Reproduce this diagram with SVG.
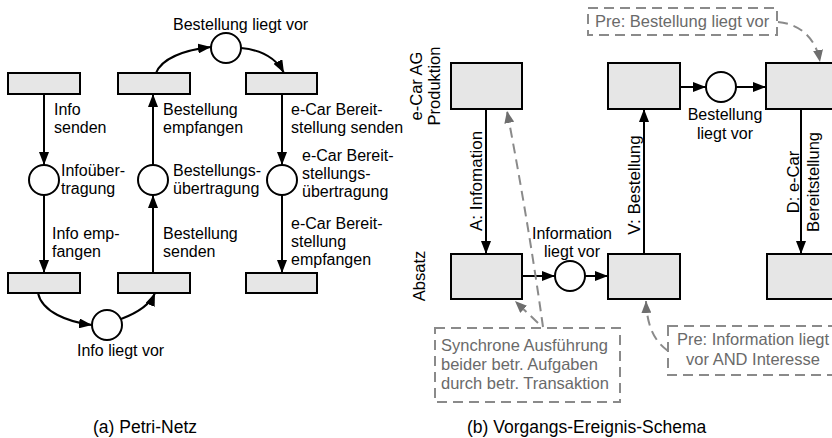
<svg xmlns="http://www.w3.org/2000/svg" width="832" height="438" viewBox="0 0 832 438">
  <defs>
    <style>
      .t{font-family:"Liberation Sans",Arial,Helvetica,sans-serif;font-size:16px;fill:#000}
      .m{text-anchor:middle}
      .r{font-size:16.5px}
      .rl{font-size:17px}
      .g{font-size:16.5px;fill:#6a6a6a}
      .cap{font-size:17.5px}
      .box{fill:#e6e6e6;stroke:#000;stroke-width:2}
      .pl{fill:#fff;stroke:#000;stroke-width:2}
      .c{fill:none;stroke:#000;stroke-width:2;marker-end:url(#ah)}
      .d{fill:none;stroke:#8a8a8a;stroke-width:2;stroke-dasharray:10 6}
      .da{fill:none;stroke:#8a8a8a;stroke-width:2;stroke-dasharray:10 6;marker-end:url(#ahg)}
    </style>
    <marker id="ah" markerUnits="userSpaceOnUse" markerWidth="13" markerHeight="10" refX="13" refY="5" orient="auto">
      <path d="M0,0 L13,5 L0,10 z" fill="#000"/>
    </marker>
    <marker id="ahg" markerUnits="userSpaceOnUse" markerWidth="12" markerHeight="10" refX="12" refY="5" orient="auto">
      <path d="M0,0 L12,5 L0,10 z" fill="#6e6e6e"/>
    </marker>
  </defs>

  <!-- (a) Petri net: transitions -->
  <g id="t-info-senden"><rect class="box" x="8" y="73" width="72" height="21"/></g>
  <g id="t-bestellung-empfangen"><rect class="box" x="118" y="73" width="72" height="21"/></g>
  <g id="t-ecar-senden"><rect class="box" x="246" y="73" width="71" height="21"/></g>
  <g id="t-info-empfangen"><rect class="box" x="8" y="273" width="72" height="20"/></g>
  <g id="t-bestellung-senden"><rect class="box" x="118" y="273" width="72" height="20"/></g>
  <g id="t-ecar-empfangen"><rect class="box" x="246" y="273" width="71" height="20"/></g>

  <!-- (a) Petri net: places -->
  <g id="p-infouebertragung"><circle class="pl" cx="44" cy="180" r="15"/></g>
  <g id="p-bestellungsuebertragung"><circle class="pl" cx="153" cy="180" r="15"/></g>
  <g id="p-ecar-uebertragung"><circle class="pl" cx="282" cy="180" r="15"/></g>
  <g id="p-bestellung-liegt-vor"><circle class="pl" cx="226" cy="48" r="15"/></g>
  <g id="p-info-liegt-vor"><circle class="pl" cx="107" cy="325" r="15"/></g>

  <!-- (b) event-process schema: tasks and events -->
  <g id="v-produktion-a"><rect class="box" x="451" y="63" width="71" height="46"/></g>
  <g id="v-produktion-v"><rect class="box" x="608" y="63" width="72" height="46"/></g>
  <g id="v-produktion-d"><rect class="box" x="766" y="63" width="80" height="46"/></g>
  <g id="v-absatz-a"><rect class="box" x="451" y="254" width="71" height="45"/></g>
  <g id="v-absatz-v"><rect class="box" x="608" y="254" width="72" height="45"/></g>
  <g id="v-absatz-d"><rect class="box" x="767" y="254" width="80" height="45"/></g>
  <g id="e-bestellung-liegt-vor"><circle class="pl" cx="721" cy="87" r="15"/></g>
  <g id="e-information-liegt-vor"><circle class="pl" cx="570" cy="276" r="15"/></g>

  <!-- connectors -->
  <g id="connectors">
    <path class="c" d="M44,94 L44,165"/>
    <path class="c" d="M44,195 L44,273"/>
    <path class="c" d="M153,273 L153,195"/>
    <path class="c" d="M153,165 L153,94"/>
    <path class="c" d="M282,94 L282,165"/>
    <path class="c" d="M282,195 L282,273"/>
    <path class="c" d="M156,73 C162,58 185,50 211,47"/>
    <path class="c" d="M241,48 C262,50 276,58 284,73"/>
    <path class="c" d="M38,293 C42,312 68,322 92,325"/>
    <path class="c" d="M121,319 C137,313 150,305 155,293"/>

    <path class="c" d="M486,109 L486,254"/>
    <path class="c" d="M644,254 L644,109"/>
    <path class="c" d="M801,109 L801,254"/>
    <path class="c" d="M680,87 L706,87"/>
    <path class="c" d="M736,87 L766,87"/>
    <path class="c" d="M522,276 L555,276"/>
    <path class="c" d="M585,276 L608,276"/>

    <path class="da" d="M778,22 C800,24 816,38 820,62"/>
    <path class="da" d="M668,351 C657,343 647,330 646,301"/>
    <path class="da" d="M543,327 Q528,220 507,111"/>
    <path class="da" d="M538,323 L515,301"/>
  </g>

  <!-- annotation boxes -->
  <g id="note-pre-bestellung">
    <rect class="d" x="588" y="8" width="189" height="27"/>
    <text class="t g" x="595" y="27">Pre: Bestellung liegt vor</text>
  </g>
  <g id="note-synchron">
    <rect class="d" x="435" y="328" width="185" height="74"/>
    <text class="t g" x="441" y="351">Synchrone Ausführung</text>
    <text class="t g" x="441" y="370">beider betr. Aufgaben</text>
    <text class="t g" x="441" y="389">durch betr. Transaktion</text>
  </g>
  <g id="note-pre-information">
    <rect class="d" x="668" y="326" width="172" height="49"/>
    <text class="t g m" x="753" y="345">Pre: Information liegt</text>
    <text class="t g m" x="753" y="365">vor AND Interesse</text>
  </g>

  <!-- labels (a) -->
  <g id="labels-a">
    <text class="t" x="54" y="115">Info</text>
    <text class="t" x="54" y="133">senden</text>
    <text class="t" x="61" y="176">Infoüber-</text>
    <text class="t" x="61" y="194">tragung</text>
    <text class="t" x="52" y="239">Info emp-</text>
    <text class="t" x="52" y="257">fangen</text>
    <text class="t" x="163" y="115">Bestellung</text>
    <text class="t" x="163" y="133">empfangen</text>
    <text class="t" x="173" y="176">Bestellungs-</text>
    <text class="t" x="173" y="194">übertragung</text>
    <text class="t" x="163" y="239">Bestellung</text>
    <text class="t" x="163" y="257">senden</text>
    <text class="t" x="291" y="115">e-Car Bereit-</text>
    <text class="t" x="291" y="133">stellung senden</text>
    <text class="t" x="302" y="161">e-Car Bereit-</text>
    <text class="t" x="302" y="179">stellungs-</text>
    <text class="t" x="302" y="197">übertragung</text>
    <text class="t" x="291" y="229">e-Car Bereit-</text>
    <text class="t" x="291" y="247">stellung</text>
    <text class="t" x="291" y="265">empfangen</text>
    <text class="t" x="173" y="30">Bestellung liegt vor</text>
    <text class="t" x="77" y="356">Info liegt vor</text>
  </g>

  <!-- labels (b) -->
  <g id="labels-b">
    <text class="t r m" transform="translate(422,86) rotate(-90)">e-Car AG</text>
    <text class="t r m" transform="translate(440,86) rotate(-90)">Produktion</text>
    <text class="t r m" transform="translate(425,276) rotate(-90)">Absatz</text>
    <text class="t rl m" transform="translate(482,181) rotate(-90)">A: Infomation</text>
    <text class="t rl m" transform="translate(640,185) rotate(-90)">V: Bestellung</text>
    <text class="t r m" transform="translate(799,182) rotate(-90)">D: e-Car</text>
    <text class="t r m" transform="translate(819,182) rotate(-90)">Bereitstellung</text>
    <text class="t m" x="572" y="239">Information</text>
    <text class="t m" x="572" y="257">liegt vor</text>
    <text class="t m" x="725" y="120">Bestellung</text>
    <text class="t m" x="725" y="139">liegt vor</text>
  </g>

  <!-- captions -->
  <text class="t cap" x="93" y="433">(a) Petri-Netz</text>
  <text class="t cap" x="467" y="433">(b) Vorgangs-Ereignis-Schema</text>
</svg>
